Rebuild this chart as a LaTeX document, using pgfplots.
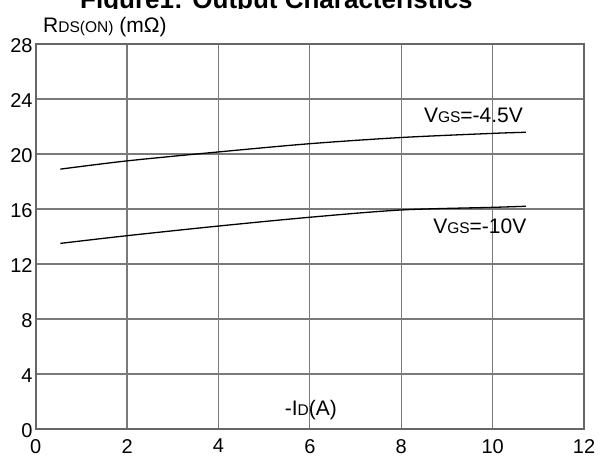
\documentclass[border=0pt]{standalone}
\usepackage{fontspec}
\setmainfont{Liberation Sans}
\usepackage{pgfplots}
\pgfplotsset{compat=1.18}

\definecolor{gridc}{HTML}{7A7A7A}
\definecolor{framec}{HTML}{666666}

\newcommand{\lbl}{\fontsize{21}{21}\selectfont}
\newcommand{\sub}{\fontsize{15.5}{15.5}\selectfont}

\begin{document}
\begin{tikzpicture}
\useasboundingbox (0,0) rectangle (601pt,456pt);

% title, cut off at the top edge as in the scan
\begin{scope}
\clip (0,447pt) rectangle (601pt,470pt);
\node[overlay, anchor=base west, inner sep=0pt, font=\fontsize{26}{26}\selectfont\bfseries]
  at (80pt,447pt) {Figure1: Output Characteristics};
\end{scope}

\node[anchor=base west, inner sep=0pt] at (43pt,423pt)
  {\lbl R\sub DS(ON)\lbl{} (mΩ)};

\begin{axis}[
    at={(35.7pt,27pt)}, anchor=south west,
    scale only axis,
    width=548.3pt, height=385pt,
    xmin=0, xmax=12, ymin=0, ymax=28,
    xtick={0,2,...,12}, ytick={0,4,...,28},
    major tick length=0pt,
    grid=major,
    grid style={gridc, line width=1.2pt},
    axis line style={framec, line width=1.6pt},
    /pgf/number format/assume math mode=true,
    tick label style={font=\fontsize{20}{20}\selectfont, inner sep=0pt},
    xticklabel style={yshift=-10pt},
    yticklabel style={xshift=-3pt, yshift=-2pt},
    clip=false,
]
\addplot[black, line width=1.3pt, smooth] coordinates {
  (0.54,18.9) (2,19.5) (4,20.15) (6,20.75) (8,21.2) (10,21.5) (10.73,21.58)
};
\addplot[black, line width=1.3pt, smooth] coordinates {
  (0.54,13.5) (2,14.06) (4,14.76) (6,15.4) (8,15.93) (10,16.12) (10.73,16.2)
};

\node[inner sep=0pt] at (axis cs:9.58,22.8) {\lbl V\sub GS\lbl =-4.5V};
\node[inner sep=0pt] at (axis cs:9.72,14.75) {\lbl V\sub GS\lbl =-10V};
\node[inner sep=0pt] at (axis cs:6.02,1.38) {\lbl -I\sub D\lbl (A)};
\end{axis}
\end{tikzpicture}
\end{document}
